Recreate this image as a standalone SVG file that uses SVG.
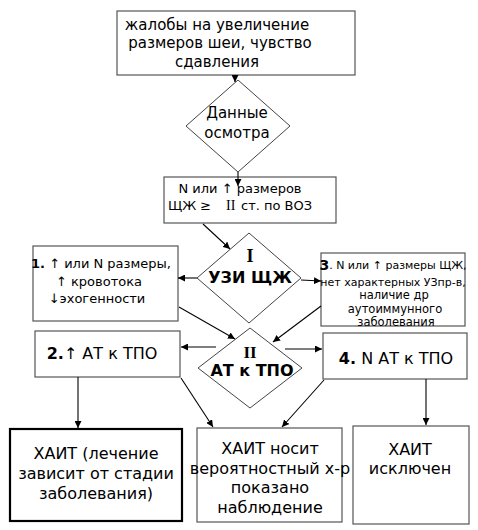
<svg xmlns="http://www.w3.org/2000/svg" width="478" height="530" viewBox="0 0 478 530">
<defs>
<marker id="ah" viewBox="0 0 10 10" refX="10" refY="5" markerWidth="7" markerHeight="7" orient="auto" markerUnits="userSpaceOnUse">
<path d="M0,0 L10,5 L0,10 z" fill="#000"/>
</marker>
<style>
.box{fill:#fff;stroke:#555;stroke-width:1.2}
.thick{fill:#fff;stroke:#000;stroke-width:2.2}
.dia{fill:#fff;stroke:#444;stroke-width:1}
text{font-family:"DejaVu Sans","Liberation Sans",sans-serif;fill:#000;text-anchor:middle;dominant-baseline:central}
.c{stroke:#000;stroke-width:1.1;fill:none;marker-end:url(#ah)}
.serif{font-family:"Liberation Serif",serif}
.b{font-weight:bold}
.s{text-anchor:start}
</style>
</defs>
<rect width="478" height="530" fill="#fff"/>
<g id="complaints">
<rect class="box" x="117" y="11" width="238" height="64"/>
<text x="217" y="25" font-size="15">жалобы на увеличение</text>
<text x="220" y="43" font-size="15">размеров шеи, чувство</text>
<text x="217" y="62" font-size="15">сдавления</text>
</g>
<g id="exam">
<polygon class="dia" points="238,80 290,126 238,172 186,126"/>
<text x="237" y="113" font-size="15">Данные</text>
<text x="237" y="133" font-size="15">осмотра</text>
</g>
<g id="size">
<rect class="box" x="164" y="177" width="172" height="46"/>
<text x="240" y="188" font-size="13">N или ↑ размеров</text>
<text class="s" x="168" y="205" font-size="13">ЩЖ ≥</text>
<text class="s serif" x="226" y="205" font-size="14">II</text>
<text class="s" x="241" y="205" font-size="13">ст. по ВОЗ</text>
</g>
<g id="uzi">
<polygon class="dia" points="249,233 301,278 249,323 197,278"/>
<text x="250" y="256" font-size="18" class="serif b">I</text>
<text x="250" y="277" font-size="16" class="b">УЗИ ЩЖ</text>
</g>
<g id="res1">
<rect class="box" x="33" y="246" width="145" height="75"/>
<text x="101" y="263" font-size="13"><tspan class="b">1.</tspan> ↑ или N размеры,</text>
<text x="99" y="281" font-size="13">↑ кровотока</text>
<text x="97" y="298" font-size="13">↓эхогенности</text>
</g>
<g id="res3">
<rect class="box" x="321" y="253" width="144" height="73"/>
<text x="393" y="265" font-size="11"><tspan class="b" font-size="14">3</tspan>. N или ↑ размеры ЩЖ,</text>
<text x="393" y="282" font-size="11">нет характерных УЗпр-в,</text>
<text x="394" y="295" font-size="11.5">наличие др</text>
<text x="395" y="309" font-size="11.5">аутоиммунного</text>
<text x="396" y="322" font-size="11.5">заболевания</text>
</g>
<g id="at">
<polygon class="dia" points="250,328 302,368 250,408 198,368"/>
<text x="250" y="352" font-size="17" class="serif b">II</text>
<text x="252" y="370" font-size="16" class="b">АТ к ТПО</text>
</g>
<g id="res2">
<rect class="box" x="35" y="331" width="145" height="46"/>
<text x="102" y="353" font-size="16"><tspan class="b">2.</tspan>↑ АТ к ТПО</text>
</g>
<g id="res4">
<rect class="box" x="323" y="333" width="144" height="46"/>
<text x="396" y="358" font-size="16"><tspan class="b">4.</tspan> N АТ к ТПО</text>
</g>
<g id="haitTreat">
<rect class="thick" x="10" y="429" width="172" height="92"/>
<text x="96" y="453" font-size="16">ХАИТ (лечение</text>
<text x="96" y="473" font-size="16">зависит от стадии</text>
<text x="96" y="493" font-size="16">заболевания)</text>
</g>
<g id="haitProb">
<rect class="box" x="197" y="428" width="145" height="94"/>
<text x="270" y="448" font-size="16">ХАИТ носит</text>
<text x="270" y="468" font-size="16">вероятностный х-р</text>
<text x="270" y="487" font-size="16">показано</text>
<text x="270" y="507" font-size="16">наблюдение</text>
</g>
<g id="haitNo">
<rect class="box" x="353" y="426" width="116" height="98"/>
<text x="410" y="449" font-size="16">ХАИТ</text>
<text x="410" y="468" font-size="16">исключен</text>
</g>
<g id="connectors">
<line class="c" x1="235" y1="75" x2="235" y2="82"/>
<line class="c" x1="238" y1="172" x2="238" y2="186"/>
<line class="c" x1="203" y1="224" x2="230" y2="249"/>
<line class="c" x1="197" y1="278" x2="178" y2="278"/>
<line class="c" x1="301" y1="280" x2="321" y2="281"/>
<line class="c" x1="179" y1="307" x2="235" y2="339"/>
<line class="c" x1="321" y1="306" x2="273" y2="342"/>
<line class="c" x1="216" y1="347" x2="181" y2="347"/>
<line class="c" x1="285" y1="349" x2="322" y2="349"/>
<line class="c" x1="78" y1="377" x2="78" y2="428"/>
<line class="c" x1="181" y1="378" x2="213" y2="427"/>
<line class="c" x1="324" y1="380" x2="282" y2="427"/>
<line class="c" x1="426" y1="379" x2="426" y2="425"/>
</g>
</svg>
